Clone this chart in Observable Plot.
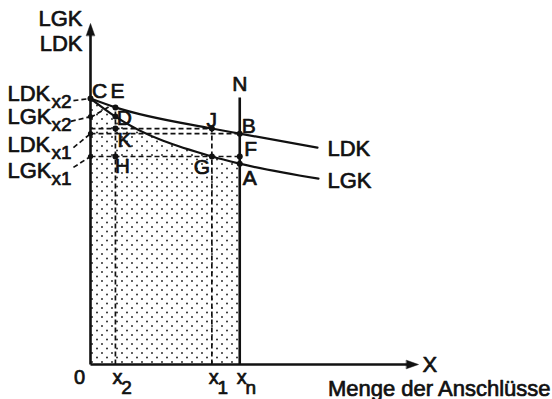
<!DOCTYPE html>
<html><head><meta charset="utf-8">
<script src="https://cdn.jsdelivr.net/npm/d3@7"></script>
<script src="https://cdn.jsdelivr.net/npm/@observablehq/plot@0.6"></script>
<style>html,body{margin:0;background:#fff} svg{display:block}</style>
</head><body><div id="chart"></div>
<script>
// Quantities (arbitrary units)
const x2 = 7.6, x1 = 37, xn = 45.5;
const ldkX = [0, 7.6, 37, 45.5, 69.2];
const ldkY = [78.0, 75.4, 69.2, 67.7, 63.6];
const lgkX = [0, 7.6, 37, 45.5, 69.5];
const lgkY = [78.0, 72.7, 61.0, 58.9, 54.5];
const nTop = 78.3;
const tipX = 100, tipY = 100;

// Named points
const pointNames = ["C", "E", "D", "K", "H", "J", "G", "B", "F", "A"];
const pointX = [0, x2, x2, x2, x2, x1, x1, xn, xn, xn];
const pointY = [78.0, 75.4, 72.7, 69.2, 61.0, 69.2, 61.0, 67.7, 61.0, 58.9];
const pointDx = [9, 2, 9, 9, 7, 0, -10, 9, 11, 10];
const pointDy = [-7, -16, 2, 12, 10, -8, 11, -7, -7, 15];

// Value labels on the y axis
const yLabelMain = ["LDK", "LGK", "LDK", "LGK"];
const yLabelSub = ["x2", "x2", "x1", "x1"];
const yLabelY = [77.4, 70.4, 62.2, 54.8];
const yAxisDots = [72.7, 67.7, 61.0];

const ldk = ldkX.map((x, i) => ({x, y: ldkY[i]}));
const lgk = lgkX.map((x, i) => ({x, y: lgkY[i]}));
const shade = lgk.filter(d => d.x <= xn);
const pts = pointNames.map((n, i) => ({n, x: pointX[i], y: pointY[i], dx: pointDx[i], dy: pointDy[i]}));

const axes = [
  {x1: 0, y1: 0, x2: 0, y2: tipY - 3},
  {x1: 0, y1: 0, x2: tipX - 3, y2: 0},
  {x1: xn, y1: 0, x2: xn, y2: nTop}
];
const dashed = [
  {x1: x2, y1: 0, x2: x2, y2: 75.4},
  {x1: x1, y1: 0, x2: x1, y2: 69.2},
  {x1: 0, y1: 69.2, x2: x1, y2: 69.2},
  {x1: 0, y1: 67.7, x2: xn, y2: 67.7},
  {x1: 0, y1: 61.0, x2: xn, y2: 61.0},
  // leaders from the value labels
  {x1: -5.2, y1: 77.4, x2: 0, y2: 78.0},
  {x1: -6.0, y1: 71.3, x2: 0, y2: 72.7},
  {x1: 0, y1: 72.4, x2: 5.8, y2: 75.7},
  {x1: -5.2, y1: 63.6, x2: 0, y2: 67.7},
  {x1: -5.2, y1: 57.8, x2: 0, y2: 61.0}
];

const head = {draw(ctx, l, r) { ctx.moveTo(-r, 0); ctx.lineTo(0, -l); ctx.lineTo(r, 0); ctx.closePath(); }};
const font = "'Liberation Sans', Arial, Helvetica, sans-serif";
const ink = "#111";
const T = {fill: ink, stroke: ink, strokeWidth: 0.7};

const marks = [
  Plot.areaY(shade, {x: "x", y: "y", fill: "url(#dots)", curve: "monotone-x"}),
  Plot.link(dashed, {x1: "x1", y1: "y1", x2: "x2", y2: "y2", stroke: ink, strokeWidth: 1.7, strokeDasharray: "5,3"}),
  Plot.link(axes, {x1: "x1", y1: "y1", x2: "x2", y2: "y2", stroke: ink, strokeWidth: 2.6}),
  Plot.line(ldk, {x: "x", y: "y", stroke: ink, strokeWidth: 2.2, curve: "monotone-x"}),
  Plot.line(lgk, {x: "x", y: "y", stroke: ink, strokeWidth: 2.2, curve: "monotone-x"}),
  Plot.dot(pts, {x: "x", y: "y", r: 3, fill: ink}),
  Plot.dot(yAxisDots, {x: () => 0, y: d => d, r: 2.6, fill: ink}),
  Plot.vector([{x: 0, y: tipY}], {x: "x", y: "y", length: 12, r: 4.2, rotate: 0, anchor: "end", shape: head, fill: ink, stroke: ink, strokeWidth: 0.5}),
  Plot.vector([{x: tipX, y: 0}], {x: "x", y: "y", length: 12, r: 4.2, rotate: 90, anchor: "end", shape: head, fill: ink, stroke: ink, strokeWidth: 0.5}),
  // point letters
  ...pts.map(p => Plot.text([p], {x: "x", y: "y", text: "n", dx: p.dx, dy: p.dy, fontSize: 21, ...T})),
  // y-axis title
  Plot.text(["LGK"], {x: () => 0, y: () => tipY, text: d => d, dx: -8, dy: 2, textAnchor: "end", lineAnchor: "bottom", fontSize: 22, ...T}),
  Plot.text(["LDK"], {x: () => 0, y: () => tipY, text: d => d, dx: -8, dy: 27, textAnchor: "end", lineAnchor: "bottom", fontSize: 22, ...T}),
  // value labels on y axis
  Plot.text(yLabelMain, {x: () => 0, y: (d, i) => yLabelY[i], text: d => d, dx: -83, textAnchor: "start", lineAnchor: "bottom", fontSize: 22, ...T}),
  Plot.text(yLabelSub, {x: () => 0, y: (d, i) => yLabelY[i], text: d => d, dx: -39, dy: 7, textAnchor: "start", lineAnchor: "bottom", fontSize: 19, ...T}),
  // curve names
  Plot.text([ldk[ldk.length - 1]], {x: "x", y: "y", text: () => "LDK", dx: 10, dy: 1, textAnchor: "start", fontSize: 22, ...T}),
  Plot.text([lgk[lgk.length - 1]], {x: "x", y: "y", text: () => "LGK", dx: 9, dy: 2, textAnchor: "start", fontSize: 22, ...T}),
  Plot.text([{x: xn, y: nTop}], {x: "x", y: "y", text: () => "N", dy: -13, fontSize: 21, ...T}),
  // x axis labels
  Plot.text([0], {x: () => 0, y: () => 0, text: () => "0", dx: -11, dy: 19, lineAnchor: "bottom", fontSize: 20, ...T}),
  Plot.text([x2, x1, xn], {x: d => d, y: () => 0, text: () => "x", dx: 2, dy: 19, lineAnchor: "bottom", fontSize: 20, ...T}),
  Plot.text(["2", "1", "n"], {x: (d, i) => [x2, x1, xn][i], y: () => 0, text: d => d, dx: 11, dy: 29, lineAnchor: "bottom", fontSize: 19, ...T}),
  Plot.text(["X"], {x: () => tipX, y: () => 0, text: d => d, dx: 4, dy: 0, textAnchor: "start", lineAnchor: "middle", fontSize: 22, ...T}),
  Plot.text(["Menge der Anschlüsse"], {x: () => tipX, y: () => 0, text: d => d, dx: 132, dy: 31, textAnchor: "end", lineAnchor: "bottom", fontSize: 22, ...T})
];

const svg = Plot.plot({
  width: 552, height: 399,
  marginLeft: 90, marginRight: 134, marginTop: 23, marginBottom: 35,
  x: {domain: [0, 100], axis: null},
  y: {domain: [0, 100], axis: null},
  style: {fontFamily: font, background: "#fff", overflow: "visible"},
  marks
});
d3.select(svg).insert("defs", ":first-child").html(
  '<pattern id="dots" patternUnits="userSpaceOnUse" width="10" height="9">' +
  '<circle cx="2" cy="2" r="0.95" fill="#222"/><circle cx="7" cy="6.5" r="0.95" fill="#222"/></pattern>'
);
document.getElementById("chart").appendChild(svg);
</script>
</body></html>
